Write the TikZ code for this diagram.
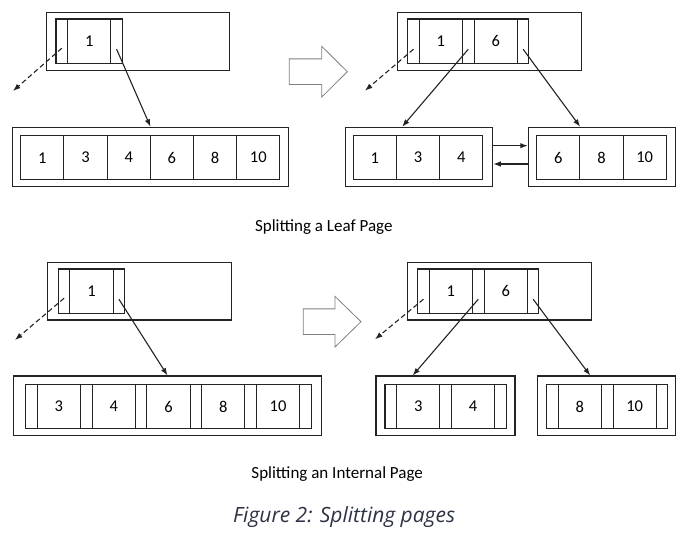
\documentclass[tikz,border=0pt]{standalone}
\usepackage{fontspec}
\setmainfont{Carlito}
\newfontfamily\capfont{Open Sans}
\usepackage{tikz}
\usetikzlibrary{arrows.meta}
\definecolor{linegray}{RGB}{35,35,35}
\definecolor{capblue}{RGB}{45,50,68}

\begin{document}
\begin{tikzpicture}[>={Latex[length=7.5pt,width=5.5pt]}, x=1pt, y=-1pt,
  page/.style={draw=linegray, line width=1.1pt, minimum height=58pt, inner sep=0pt},
  key/.style={draw=linegray, line width=1.1pt, minimum width=43.2pt, minimum height=44.4pt, inner sep=0pt, font=\fontsize{16.5}{18}\selectfont},
  slot/.style={draw=linegray, line width=1.1pt, minimum width=11.6pt, minimum height=44.4pt, inner sep=0pt},
  ptr/.style={->, line width=1.1pt, linegray},
  nul/.style={->, line width=1.1pt, linegray, dash pattern=on 5pt off 3pt},
  hollow/.style={draw=gray, line width=0.8pt}]

  \useasboundingbox (0,0) rectangle (686,534);

  % splitting a leaf page, before
  \node[page, minimum width=183.3pt] (r1) at (137.7,41.7) {};
  \foreach \i in {1,2} \node[slot] (r1s\i) at ({56+5.8+(\i-1)*54.8},41.2) {};
  \foreach \k [count=\i] in {1} \node[key] (r1k\i) at ({56+33.2+(\i-1)*54.8},41.2) {\k};

  \node[page, minimum width=276.4pt, minimum height=59.4pt] (l1) at (150.5,157) {};
  \foreach \k [count=\i] in {1,3,4,6,8,10} \node[key] (l1k\i) at ({20.7+21.6+(\i-1)*43.2},157.7) {\k};

  \coordinate (n1) at (13,91);
  \draw[nul] ([yshift=-7pt]r1s1.center) -- (n1);
  \draw[ptr] ([yshift=-8pt]r1s2.center) -- (l1.north);

  \draw[hollow] (289.3,58.9) -- (321.7,58.9) -- (321.7,46.3) -- (347.3,71.7) -- (321.7,97.1) -- (321.7,84.5) -- (289.3,84.5) -- cycle;

  % splitting a leaf page, after
  \node[page, minimum width=184pt] (r1n) at (489.7,41.7) {};
  \foreach \i in {1,2,3} \node[slot] (r1ns\i) at ({407.7+5.8+(\i-1)*54.8},41.2) {};
  \foreach \k [count=\i] in {1,6} \node[key] (r1nk\i) at ({407.7+33.2+(\i-1)*54.8},41.2) {\k};

  \node[page, minimum width=147.7pt, minimum height=59.4pt] (l1a) at (418.9,157) {};
  \foreach \k [count=\i] in {1,3,4} \node[key] (l1ak\i) at ({353.3+21.6+(\i-1)*43.2},157.7) {\k};
  \node[page, minimum width=147.4pt, minimum height=59.4pt] (l1b) at (602,157) {};
  \foreach \k [count=\i] in {6,8,10} \node[key] (l1bk\i) at ({536.7+21.6+(\i-1)*43.2},157.7) {\k};

  \coordinate (n1n) at (365,90.7);
  \draw[nul] ([yshift=-8pt]r1ns1.center) -- (n1n);
  \draw[ptr] ([yshift=-8pt]r1ns2.center) -- ([xshift=57.7pt]l1a.north west);
  \draw[ptr] ([yshift=-8pt]r1ns3.center) -- ([xshift=52.4pt]l1b.north west);
  \draw[ptr] ([yshift=11.3pt]l1a.east) -- ([yshift=11.3pt]l1b.west);
  \draw[ptr] ([yshift=-7pt]l1b.west) -- ([yshift=-7pt]l1a.east);

  \node[font=\fontsize{17}{20}\selectfont, anchor=base] (cap1) at (323.8,232) {Splitting a Leaf Page};

  % splitting an internal page, before
  \node[page, minimum width=184pt, minimum height=57.3pt] (r2) at (139.7,291.4) {};
  \foreach \i in {1,2} \node[slot] (r2s\i) at ({58.3+5.8+(\i-1)*54.8},291.2) {};
  \foreach \k [count=\i] in {1} \node[key] (r2k\i) at ({58.3+33.2+(\i-1)*54.8},291.2) {\k};

  \node[page, minimum width=308.4pt, minimum height=59.7pt] (i2) at (167.5,405.9) {};
  \foreach \i in {1,...,6} \node[slot] (i2s\i) at ({25.7+5.8+(\i-1)*54.8},406.5) {};
  \foreach \k [count=\i] in {3,4,6,8,10} \node[key] (i2k\i) at ({25.7+33.2+(\i-1)*54.8},406.5) {\k};

  \coordinate (n2) at (15,340);
  \draw[nul] ([yshift=-7pt]r2s1.center) -- (n2);
  \draw[ptr] ([yshift=-8pt]r2s2.center) -- (i2.north);

  \draw[hollow] (303.3,308.9) -- (335,308.9) -- (335,296.4) -- (361,321.7) -- (335,347) -- (335,334.5) -- (303.3,334.5) -- cycle;

  % splitting an internal page, after
  \node[page, minimum width=184pt, minimum height=57.3pt] (r2n) at (499.7,291.4) {};
  \foreach \i in {1,2,3} \node[slot] (r2ns\i) at ({417.7+5.8+(\i-1)*54.8},291.2) {};
  \foreach \k [count=\i] in {1,6} \node[key] (r2nk\i) at ({417.7+33.2+(\i-1)*54.8},291.2) {\k};

  \node[page, minimum width=139pt, minimum height=59.7pt] (i2a) at (445.5,405.9) {};
  \foreach \i in {1,2,3} \node[slot] (i2as\i) at ({385+5.8+(\i-1)*54.8},406.5) {};
  \foreach \k [count=\i] in {3,4} \node[key] (i2ak\i) at ({385+33.2+(\i-1)*54.8},406.5) {\k};
  \node[page, minimum width=137.7pt, minimum height=59.7pt] (i2b) at (606.2,405.9) {};
  \foreach \i in {1,2,3} \node[slot] (i2bs\i) at ({546.7+5.8+(\i-1)*54.8},406.5) {};
  \foreach \k [count=\i] in {8,10} \node[key] (i2bk\i) at ({546.7+33.2+(\i-1)*54.8},406.5) {\k};

  \coordinate (n2n) at (375,339.3);
  \draw[nul] ([yshift=-8pt]r2ns1.center) -- (n2n);
  \draw[ptr] ([yshift=-8pt]r2ns2.center) -- ([xshift=37.3pt]i2a.north west);
  \draw[ptr] ([yshift=-8pt]r2ns3.center) -- ([xshift=53.4pt]i2b.north west);

  \node[font=\fontsize{17}{20}\selectfont, anchor=base] (cap2) at (337.2,478.3) {Splitting an Internal Page};

  \node[font=\capfont\itshape\fontsize{21}{24}\selectfont, text=capblue, anchor=base] (fig) at (344.2,522.7) {Figure 2: Splitting pages};
\end{tikzpicture}
\end{document}
